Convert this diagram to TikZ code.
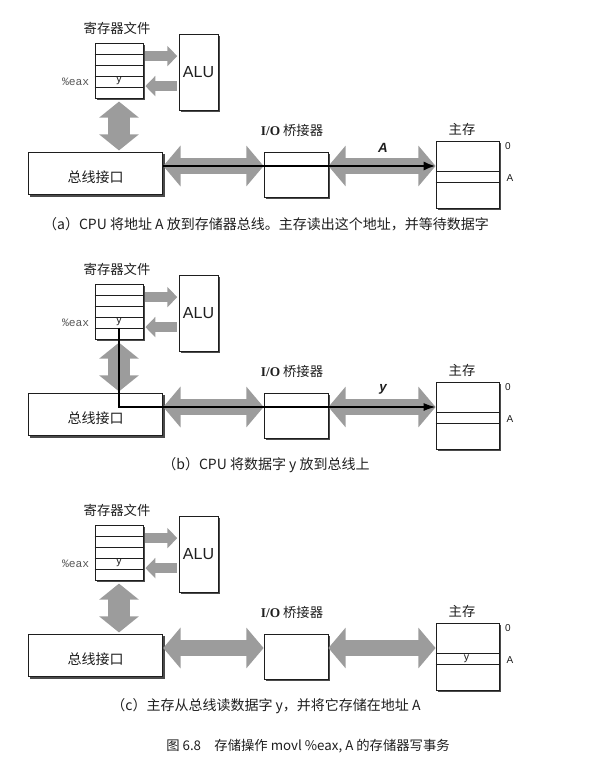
\documentclass[tikz,border=0pt]{standalone}
\usepackage{fontspec}
\setmainfont{Liberation Serif}
\setsansfont{Liberation Sans}
\setmonofont{Liberation Mono}
\newfontfamily\cjk{Noto Sans CJK SC}
\usetikzlibrary{arrows.meta,calc,shadows}
\definecolor{ink}{HTML}{1E1E1E}
\definecolor{pipe}{HTML}{9C9C9C}

\tikzset{
  unit/.style={draw=ink,fill=white,line width=.6pt,inner sep=0pt,
    drop shadow={shadow xshift=1.3pt,shadow yshift=-1.3pt,fill=ink,opacity=.8}},
  tag/.style={font=\cjk\fontsize{10}{12}\selectfont},
  bigbus/.style={pipe,line width=12pt,
    {Triangle[width=30pt,length=13pt]}-{Triangle[width=30pt,length=13pt]}},
  vbus/.style={pipe,line width=16pt,shorten <=2pt,shorten >=1pt,
    {Triangle[width=29pt,length=12pt]}-{Triangle[width=29pt,length=12pt]}},
  smallbus/.style={pipe,line width=7.5pt,shorten <=1.5pt,shorten >=1pt},
  smalltip/.tip={Triangle[width=15pt,length=7.5pt]},
  busval/.style={font=\sffamily\bfseries\itshape\fontsize{10}{12}\selectfont},
  addr/.style={font=\sffamily\fontsize{7.5}{9}\selectfont},
  cell/.style={font=\sffamily\fontsize{8}{9}\selectfont,inner sep=1pt}
}

\begin{document}
\begin{tikzpicture}[x=0.75pt,y=-0.75pt,text=ink,>=Latex]
  \useasboundingbox (0,0) rectangle (607,771);

  % three snapshots of the same machine, one per step
  \foreach \p/\dy/\txt in {
    a/0/{（a）CPU 将地址 A 放到存储器总线。主存读出这个地址，并等待数据字},
    b/241/{（b）CPU 将数据字 y 放到总线上},
    c/482/{（c）主存从总线读数据字 y，并将它存储在地址 A}}
  {
  \begin{scope}[shift={(0,\dy)}]
    \coordinate (lane\p) at (0,166);

    % register file and ALU
    \node[unit,minimum width=36pt,minimum height=41.25pt] (regs\p) at (119,71) {};
    \foreach \k in {1,...,4}
      \draw[ink,line width=.5pt] ($(regs\p.north west)+(0,11*\k)$) -- ++(48,0);
    \node[tag] (regtag\p) at (117,28) {寄存器文件};
    \node[font=\ttfamily\fontsize{8.5}{9}\selectfont,text=ink!75,anchor=east]
      (eax\p) at (94,82) {\%eax};
    \node[cell] (yreg\p) at (119,81) {y};
    \node[unit,minimum width=29.25pt,minimum height=57pt,
      font=\sffamily\fontsize{12}{14}\selectfont] (alu\p) at (198.5,72) {ALU};

    \coordinate (toalu\p) at ($(regs\p.north east)+(0,13)$);
    \coordinate (fromalu\p) at ($(regs\p.north east)+(0,43)$);
    \draw[smallbus,-smalltip] (toalu\p) -- (toalu\p -| alu\p.west);
    \draw[smallbus,smalltip-] (fromalu\p) -- (fromalu\p -| alu\p.west);

    % bus interface, bridge, memory
    \node[unit,minimum width=101pt,minimum height=32pt,text height=13pt,text depth=0pt,
      font=\cjk\fontsize{10.5}{12}\selectfont] (bif\p) at (95.5,173.5) {总线接口};
    \node[unit,minimum width=48pt,minimum height=33.75pt] (bridge\p) at (296,174.5) {};
    \node[tag] (bridgetag\p) at (292,130) {{\rmfamily\bfseries I/O} 桥接器};
    \node[unit,minimum width=47.25pt,minimum height=50.25pt] (mem\p) at (467.5,174.5) {};
    \draw[ink,line width=.5pt] ($(mem\p.north west)+(0,31)$) -- ++(63,0)
      ($(mem\p.north west)+(0,42)$) -- ++(63,0);
    \node[tag] (memtag\p) at (462,129) {主存};
    \node[addr] (zero\p) at (508,146) {0};
    \node[addr] (slot\p) at (510,178) {A};

    \draw[vbus] (regs\p.south) -- (regs\p.south |- bif\p.north);
    \draw[bigbus] (bif\p.east |- lane\p) -- (bridge\p.west |- lane\p);
    \draw[bigbus] (bridge\p.east |- lane\p) -- (mem\p.west |- lane\p);

    \node[font=\cjk\fontsize{10.5}{12}\selectfont] (cap\p) at (266,224) {\txt};
  \end{scope}
  }

  % (a) address goes out
  \node[busval] (vala) at (383,148) {A};
  \draw[black,line width=1.8pt,-{Latex[length=9pt,width=7pt]}]
    (bifa.east |- lanea) -- (mema.west |- lanea);

  % (b) data word goes out
  \node[busval] (valb) at (383,389) {y};
  \draw[black,line width=1pt,-{Latex[length=9pt,width=6pt]}]
    (yregb.south) |- (memb.west |- laneb);

  % (c) memory keeps it
  \node[cell] (ymemc) at ($(memc.north west)+(31,36.5)$) {y};

  \node[font=\cjk\fontsize{10}{12}\selectfont] (title) at (308,746)
    {图 6.8\quad 存储操作 movl \%eax, A 的存储器写事务};
\end{tikzpicture}
\end{document}
